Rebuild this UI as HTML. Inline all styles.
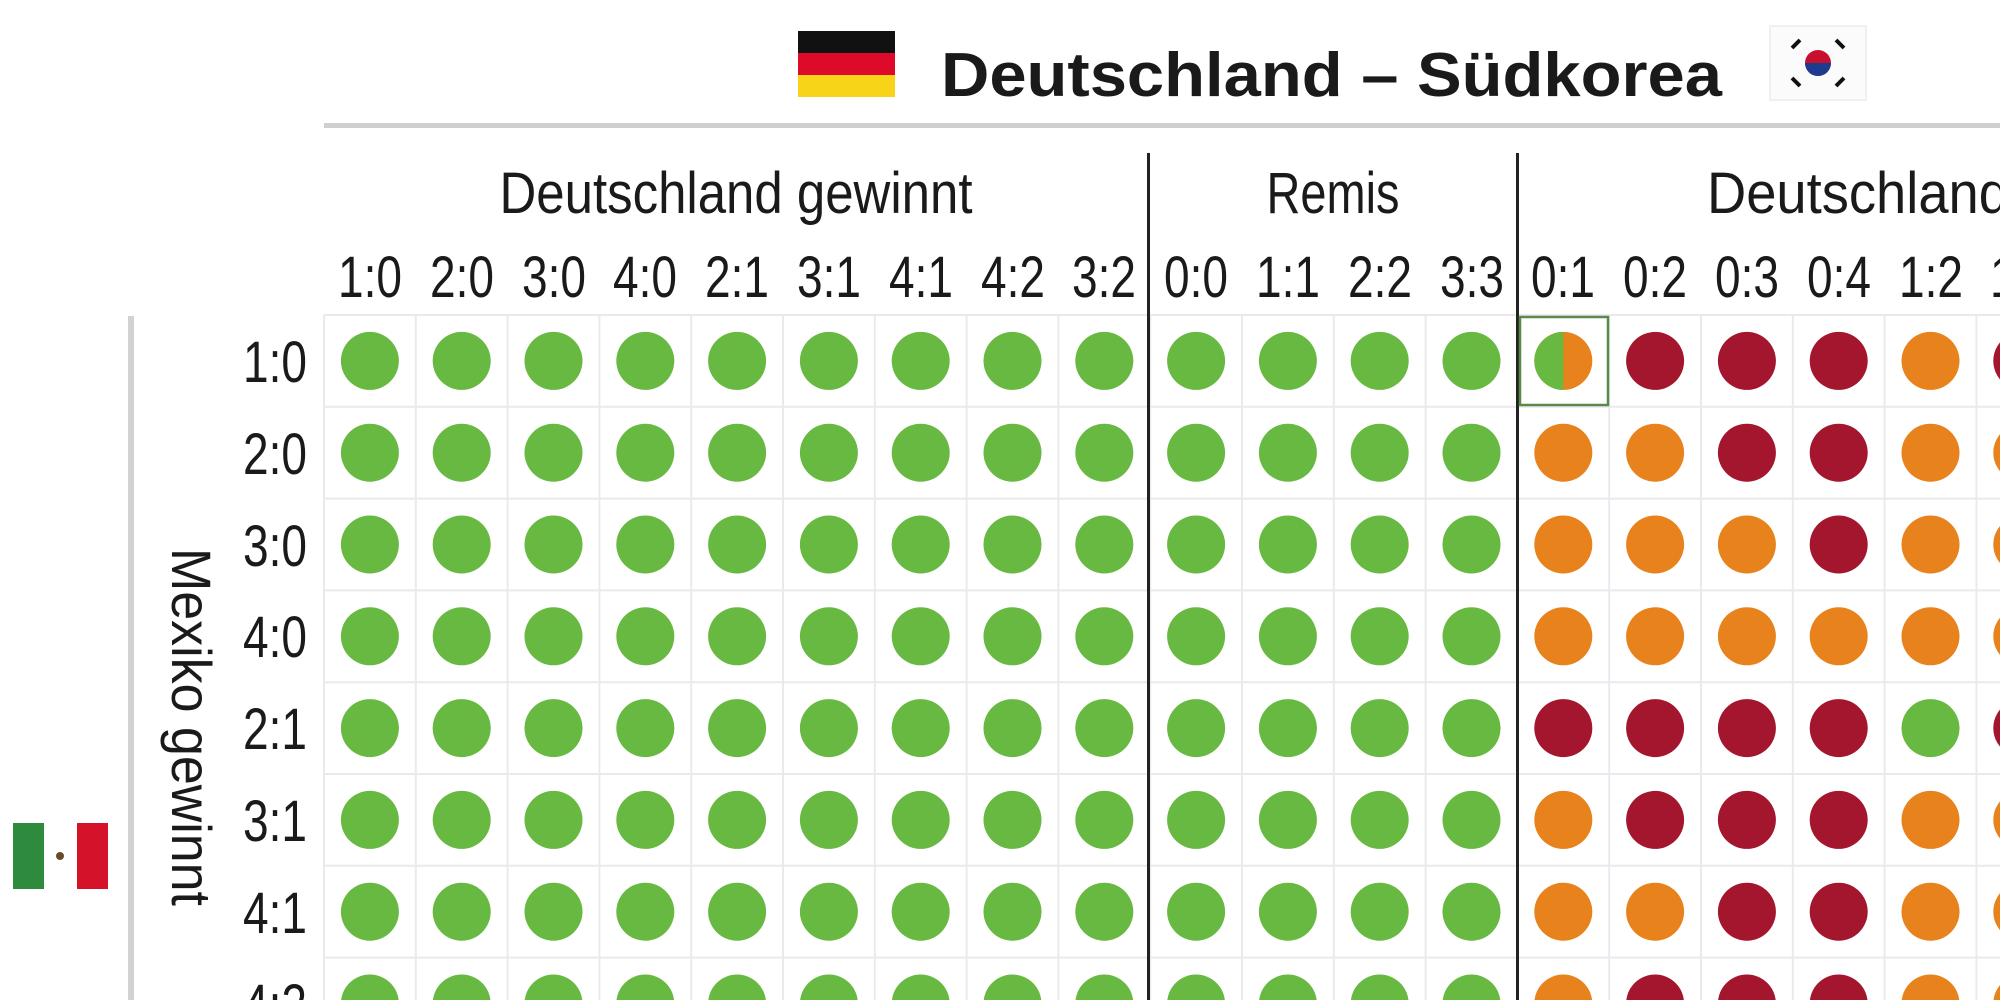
<!DOCTYPE html>
<html><head><meta charset="utf-8"><style>
html,body{margin:0;padding:0;background:#fff;width:2000px;height:1000px;overflow:hidden}
svg{display:block}
text{font-family:"Liberation Sans Narrow","Liberation Sans",sans-serif;fill:#1a1a1a}
</style></head><body>
<svg id="s" width="2000" height="1000" viewBox="0 0 2000 1000" xmlns="http://www.w3.org/2000/svg">
<rect width="2000" height="1000" fill="#fff"/>
<rect x="798" y="31" width="97" height="22" fill="#111"/>
<rect x="798" y="53" width="97" height="22" fill="#dd0a2a"/>
<rect x="798" y="75" width="97" height="22" fill="#f7d417"/>
<text x="941" y="96" font-size="62" font-weight="bold" textLength="781" lengthAdjust="spacingAndGlyphs" style="font-family:'Liberation Sans',sans-serif">Deutschland – Südkorea</text>
<rect x="1770" y="26" width="96" height="74" fill="#fbfbfb" stroke="#f0f0f0" stroke-width="2"/>
<circle cx="1818" cy="63" r="13" fill="#c8102e"/>
<path d="M1805 63 a13 13 0 0 0 26 0 z" fill="#1d3c8f"/>
<g stroke="#111" stroke-width="4">
<line x1="1792" y1="48" x2="1800" y2="40"/><line x1="1836" y1="40" x2="1844" y2="48"/>
<line x1="1792" y1="78" x2="1800" y2="86"/><line x1="1836" y1="86" x2="1844" y2="78"/>
</g>
<rect x="324" y="123" width="1676" height="5" fill="#cfcfcf"/>
<rect x="128" y="316" width="6" height="684" fill="#d2d2d2"/>
<rect x="13" y="823" width="31" height="66" fill="#2e8b3e"/>
<rect x="44" y="823" width="33" height="66" fill="#fff"/>
<circle cx="60" cy="856" r="4" fill="#6b4a2a"/>
<rect x="77" y="823" width="31" height="66" fill="#d4132a"/>
<text transform="translate(172,727) rotate(90)" text-anchor="middle" font-size="56" textLength="358" lengthAdjust="spacingAndGlyphs">Mexiko gewinnt</text>
<text x="736" y="213" text-anchor="middle" font-size="58" textLength="473" lengthAdjust="spacingAndGlyphs">Deutschland gewinnt</text>
<text x="1333" y="213" text-anchor="middle" font-size="58" textLength="133" lengthAdjust="spacingAndGlyphs">Remis</text>
<text x="1707" y="213" font-size="58" textLength="480" lengthAdjust="spacingAndGlyphs">Deutschland verliert</text>
<g font-size="58" text-anchor="middle" lengthAdjust="spacingAndGlyphs">
<text x="370" y="297" textLength="64" lengthAdjust="spacingAndGlyphs">1:0</text><text x="462" y="297" textLength="64" lengthAdjust="spacingAndGlyphs">2:0</text><text x="554" y="297" textLength="64" lengthAdjust="spacingAndGlyphs">3:0</text><text x="645" y="297" textLength="64" lengthAdjust="spacingAndGlyphs">4:0</text><text x="737" y="297" textLength="64" lengthAdjust="spacingAndGlyphs">2:1</text><text x="829" y="297" textLength="64" lengthAdjust="spacingAndGlyphs">3:1</text><text x="921" y="297" textLength="64" lengthAdjust="spacingAndGlyphs">4:1</text><text x="1013" y="297" textLength="64" lengthAdjust="spacingAndGlyphs">4:2</text><text x="1104" y="297" textLength="64" lengthAdjust="spacingAndGlyphs">3:2</text><text x="1196" y="297" textLength="64" lengthAdjust="spacingAndGlyphs">0:0</text><text x="1288" y="297" textLength="64" lengthAdjust="spacingAndGlyphs">1:1</text><text x="1380" y="297" textLength="64" lengthAdjust="spacingAndGlyphs">2:2</text><text x="1472" y="297" textLength="64" lengthAdjust="spacingAndGlyphs">3:3</text><text x="1563" y="297" textLength="64" lengthAdjust="spacingAndGlyphs">0:1</text><text x="1655" y="297" textLength="64" lengthAdjust="spacingAndGlyphs">0:2</text><text x="1747" y="297" textLength="64" lengthAdjust="spacingAndGlyphs">0:3</text><text x="1839" y="297" textLength="64" lengthAdjust="spacingAndGlyphs">0:4</text><text x="1931" y="297" textLength="64" lengthAdjust="spacingAndGlyphs">1:2</text><text x="2022" y="297" textLength="64" lengthAdjust="spacingAndGlyphs">1:3</text>
</g>
<g font-size="58" text-anchor="end">
<text x="307" y="382" textLength="64" lengthAdjust="spacingAndGlyphs">1:0</text><text x="307" y="474" textLength="64" lengthAdjust="spacingAndGlyphs">2:0</text><text x="307" y="566" textLength="64" lengthAdjust="spacingAndGlyphs">3:0</text><text x="307" y="657" textLength="64" lengthAdjust="spacingAndGlyphs">4:0</text><text x="307" y="749" textLength="64" lengthAdjust="spacingAndGlyphs">2:1</text><text x="307" y="841" textLength="64" lengthAdjust="spacingAndGlyphs">3:1</text><text x="307" y="933" textLength="64" lengthAdjust="spacingAndGlyphs">4:1</text><text x="307" y="1025" textLength="64" lengthAdjust="spacingAndGlyphs">4:2</text>
</g>
<g id="grid"></g>
<g id="dots"></g>
<rect x="1147" y="153" width="3" height="847" fill="#222"/>
<rect x="1516" y="153" width="3" height="847" fill="#222"/>
<rect x="1520" y="317" width="88" height="88" fill="none" stroke="#5a8a4a" stroke-width="2.5"/>
</svg>
<script>
var ns="http://www.w3.org/2000/svg",W=91.8,X0=324,Y0=315;
var g=document.getElementById('grid'),d=document.getElementById('dots');
function el(p,t,a){var e=document.createElementNS(ns,t);for(var k in a)e.setAttribute(k,a[k]);p.appendChild(e);return e;}
for(var i=0;i<=19;i++)el(g,'line',{x1:X0+i*W,y1:Y0,x2:X0+i*W,y2:1000,stroke:'#ebe8ee','stroke-width':2});
for(var j=0;j<=8;j++)el(g,'line',{x1:X0,y1:Y0+j*W,x2:2000,y2:Y0+j*W,stroke:'#ebe8ee','stroke-width':2});
var C={G:'#68b942',O:'#e8821c',R:'#a3162e'};
var right=["SRRROR","OORROO","OOOROO","OOOOOO","RRRRGR","ORRROO","OORROO","ORRROO"];
for(var r=0;r<8;r++)for(var c=0;c<19;c++){
 var cx=X0+W/2+c*W,cy=Y0+W/2+r*W,k=c<13?'G':right[r][c-13];
 if(k==='S'){el(d,'circle',{cx:cx,cy:cy,r:29,fill:C.O});el(d,'path',{d:'M'+cx+' '+(cy-29)+' a29 29 0 0 0 0 58 z',fill:C.G});}
 else el(d,'circle',{cx:cx,cy:cy,r:29,fill:C[k]});
}
</script>
</body></html>
